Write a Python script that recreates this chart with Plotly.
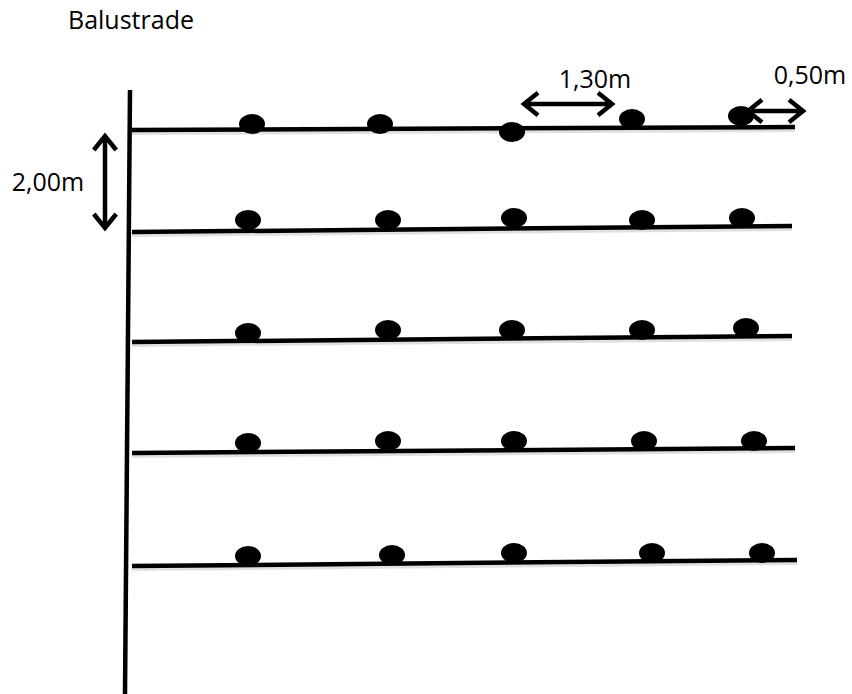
import plotly.graph_objects as go

# Diagram geometry (pixel-space data units, y downward)
balustrade_x = [130, 125]
balustrade_y = [90, 694]

row_x_start = [132, 132, 132, 132, 132]
row_x_end = [795, 792, 792, 795, 797]
row_y_start = [130, 232, 342, 453, 566]
row_y_end = [127, 226, 336, 448, 560]

dot_x = [
    [252, 380, 512, 632, 741],
    [248, 388, 514, 642, 742],
    [248, 388, 512, 642, 746],
    [248, 388, 514, 644, 754],
    [248, 392, 514, 652, 762],
]
dot_y = [
    [124, 124, 132, 119, 116],
    [220, 220, 218, 220, 218],
    [333, 330, 330, 330, 328],
    [443, 441, 441, 441, 441],
    [556, 555, 553, 553, 553],
]
dot_w = 26
dot_h = 20

# Dimension arrows: (x0, y0, x1, y1)
arrow_vert = (105, 136, 105, 228)
arrow_130 = (524, 104, 612, 104)
arrow_050 = (748, 111, 803, 111)

labels = ["Balustrade", "2,00m", "1,30m", "0,50m"]
label_x = [131, 48, 595, 810]
label_y = [23, 185, 82, 78]

fig = go.Figure()

shapes = []
def line(x0, y0, x1, y1, w=4, color="black"):
    return dict(type="line", x0=x0, y0=y0, x1=x1, y1=y1, xref="x", yref="y",
                line=dict(color=color, width=w))

for i in range(len(row_y_start)):
    shapes.append(line(row_x_start[i], row_y_start[i] + 3, row_x_end[i], row_y_end[i] + 3, 4, "rgba(0,0,0,0.12)"))
for i in range(len(row_y_start)):
    shapes.append(line(row_x_start[i], row_y_start[i], row_x_end[i], row_y_end[i], 4.5))
shapes.append(line(balustrade_x[0], balustrade_y[0], balustrade_x[1], balustrade_y[1], 4.5))

for r in range(len(dot_x)):
    for c in range(len(dot_x[r])):
        cx, cy = dot_x[r][c], dot_y[r][c]
        shapes.append(dict(type="circle", xref="x", yref="y",
                           x0=cx - dot_w / 2, x1=cx + dot_w / 2,
                           y0=cy - dot_h / 2, y1=cy + dot_h / 2,
                           fillcolor="black", line=dict(color="black", width=0)))

def double_arrow(a, head=14, w=4.5):
    x0, y0, x1, y1 = a
    out = [line(x0, y0, x1, y1, w)]
    s = head * 0.8
    if x0 == x1:  # vertical
        p = (f"M {x0-s},{y0+head} L {x0},{y0} L {x0+s},{y0+head} "
             f"M {x1-s},{y1-head} L {x1},{y1} L {x1+s},{y1-head}")
    else:
        p = (f"M {x0+head},{y0-s} L {x0},{y0} L {x0+head},{y0+s} "
             f"M {x1-head},{y1-s} L {x1},{y1} L {x1-head},{y1+s}")
    out.append(dict(type="path", path=p, xref="x", yref="y",
                    line=dict(color="black", width=w)))
    return out

for a in (arrow_vert, arrow_130, arrow_050):
    shapes.extend(double_arrow(a))

fig.add_trace(go.Scatter(x=label_x, y=label_y, mode="text", text=labels,
                         textfont=dict(family="Open Sans, Liberation Sans", size=25, color="black"),
                         hoverinfo="skip"))

fig.update_layout(
    width=852, height=694,
    margin=dict(l=0, r=0, t=0, b=0),
    paper_bgcolor="white", plot_bgcolor="white",
    showlegend=False,
    shapes=shapes,
    xaxis=dict(range=[0, 852], visible=False, fixedrange=True),
    yaxis=dict(range=[694, 0], visible=False, fixedrange=True),
)

fig.write_html("out.html", config={"displayModeBar": False},
               post_script="document.body.style.margin='0';document.body.style.overflow='hidden';")
